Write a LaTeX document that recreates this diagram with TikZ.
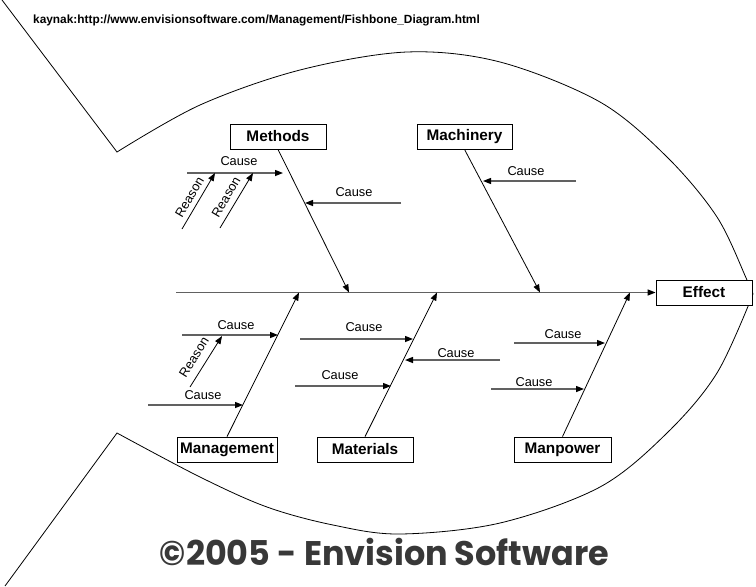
\documentclass[tikz,border=0pt]{standalone}
\usepackage{fontspec}
\setmainfont{Liberation Sans}
\newfontfamily\popfont{Poppins}
\usetikzlibrary{arrows.meta}
\begin{document}
\begin{tikzpicture}[x=0.75pt,y=-0.75pt,
  outline/.style={draw=black, line width=0.6pt},
  bone/.style={draw=black, line width=0.6pt, -{Triangle[length=6pt,width=4.5pt]}},
  hcause/.style={draw=black!62, line width=1pt, -{Triangle[length=6pt,width=4.5pt,color=black]}},
  reasonline/.style={draw=black, line width=0.6pt, -{Triangle[length=6pt,width=4.5pt]}},
  catbox/.style={draw, line width=0.6pt, fill=white, minimum height=18.75pt, inner sep=0pt,
    font=\bfseries\fontsize{11.5}{13}\selectfont},
  lbl/.style={font=\fontsize{9.6}{11}\selectfont, inner sep=0pt},
  rlbl/.style={font=\fontsize{9.6}{11}\selectfont, inner sep=0pt},
]
\useasboundingbox (0,0) rectangle (756,586);

% fish outline
\draw[outline] (2,0) -- plot[smooth, tension=0.55] coordinates {(117,152) (200,105) (300,70) (407,52) (500,62) (600,102) (667,157) (717,217) (747,280) (753,294)}
  -- plot[smooth, tension=0.55] coordinates {(753,294) (717,373) (667,433) (600,487) (500,523) (400,534) (333,525) (267,507) (200,477) (117,433)}
  -- (5,586);

% title
\node[font=\bfseries\fontsize{8.9}{10}\selectfont, inner sep=0pt] (src) at (256.5,20)
  {kaynak:http://www.envisionsoftware.com/Management/Fishbone\_Diagram.html};

% category boxes
\node[catbox, minimum width=72pt] (methods) at (278,136.5) {Methods};
\node[catbox, minimum width=71.25pt] (machinery) at (464.5,136.5) {Machinery};
\node[catbox, minimum width=75pt] (management) at (227,449.5) {Management};
\node[catbox, minimum width=72pt] (materials) at (365,449.5) {Materials};
\node[catbox, minimum width=72.75pt] (manpower) at (562.5,449.5) {Manpower};
\node[catbox, minimum width=72pt] (effect) at (704,292.5) {Effect};

% spine
\coordinate (tail) at (176,292.5);
\draw[hcause] (tail) -- (effect.west);

% bones
\coordinate (jmethods) at (349,292.5);
\coordinate (jmachinery) at (540,292.5);
\coordinate (jmanagement) at (299,292.5);
\coordinate (jmaterials) at (437,292.5);
\coordinate (jmanpower) at (630,292.5);
\draw[bone] (methods.south) -- (jmethods);
\draw[bone] (machinery.south) -- (jmachinery);
\draw[bone] (management.north) -- (jmanagement);
\draw[bone] (materials.north) -- (jmaterials);
\draw[bone] (manpower.north) -- (jmanpower);

% Methods causes
\coordinate (mc1s) at (187,173); \coordinate (mc1e) at (283,173);
\draw[hcause] (mc1s) -- (mc1e);
\node[lbl] (mc1l) at (239,161) {Cause};
\coordinate (mr1s) at (182,229); \coordinate (mr1e) at (215,173);
\draw[reasonline] (mr1s) -- (mr1e);
\node[rlbl, rotate=59.5] (mr1l) at (189.5,197.5) {Reason};
\coordinate (mr2s) at (220,228); \coordinate (mr2e) at (253,173);
\draw[reasonline] (mr2s) -- (mr2e);
\node[rlbl, rotate=59.5] (mr2l) at (226,197) {Reason};
\coordinate (mc2s) at (401,203); \coordinate (mc2e) at (305,203);
\draw[hcause] (mc2s) -- (mc2e);
\node[lbl] (mc2l) at (354,192) {Cause};

% Machinery cause
\coordinate (hc1s) at (576,181); \coordinate (hc1e) at (483,181);
\draw[hcause] (hc1s) -- (hc1e);
\node[lbl] (hc1l) at (526,171) {Cause};

% Management causes
\coordinate (gc1s) at (182,335); \coordinate (gc1e) at (278,335);
\draw[hcause] (gc1s) -- (gc1e);
\node[lbl] (gc1l) at (236,325) {Cause};
\coordinate (gr1s) at (190,387); \coordinate (gr1e) at (222,336);
\draw[reasonline] (gr1s) -- (gr1e);
\node[rlbl, rotate=58] (gr1l) at (194,357) {Reason};
\coordinate (gc2s) at (148,405); \coordinate (gc2e) at (243,405);
\draw[hcause] (gc2s) -- (gc2e);
\node[lbl] (gc2l) at (203,395) {Cause};

% Materials causes
\coordinate (tc1s) at (300,339); \coordinate (tc1e) at (413,339);
\draw[hcause] (tc1s) -- (tc1e);
\node[lbl] (tc1l) at (364,327) {Cause};
\coordinate (tc2s) at (500,360); \coordinate (tc2e) at (405,360);
\draw[hcause] (tc2s) -- (tc2e);
\node[lbl] (tc2l) at (456,353) {Cause};
\coordinate (tc3s) at (295,386); \coordinate (tc3e) at (391,386);
\draw[hcause] (tc3s) -- (tc3e);
\node[lbl] (tc3l) at (340,375) {Cause};

% Manpower causes
\coordinate (pc1s) at (514,343); \coordinate (pc1e) at (605,343);
\draw[hcause] (pc1s) -- (pc1e);
\node[lbl] (pc1l) at (563,334) {Cause};
\coordinate (pc2s) at (491,389); \coordinate (pc2e) at (584,389);
\draw[hcause] (pc2s) -- (pc2e);
\node[lbl] (pc2l) at (534,382) {Cause};

% copyright
\node[text=black!78, inner sep=0pt] (copy) at (384.5,551.5)
  {\resizebox{336.75pt}{20.5pt}{\popfont\bfseries ©2005 - Envision Software}};
\end{tikzpicture}
\end{document}
